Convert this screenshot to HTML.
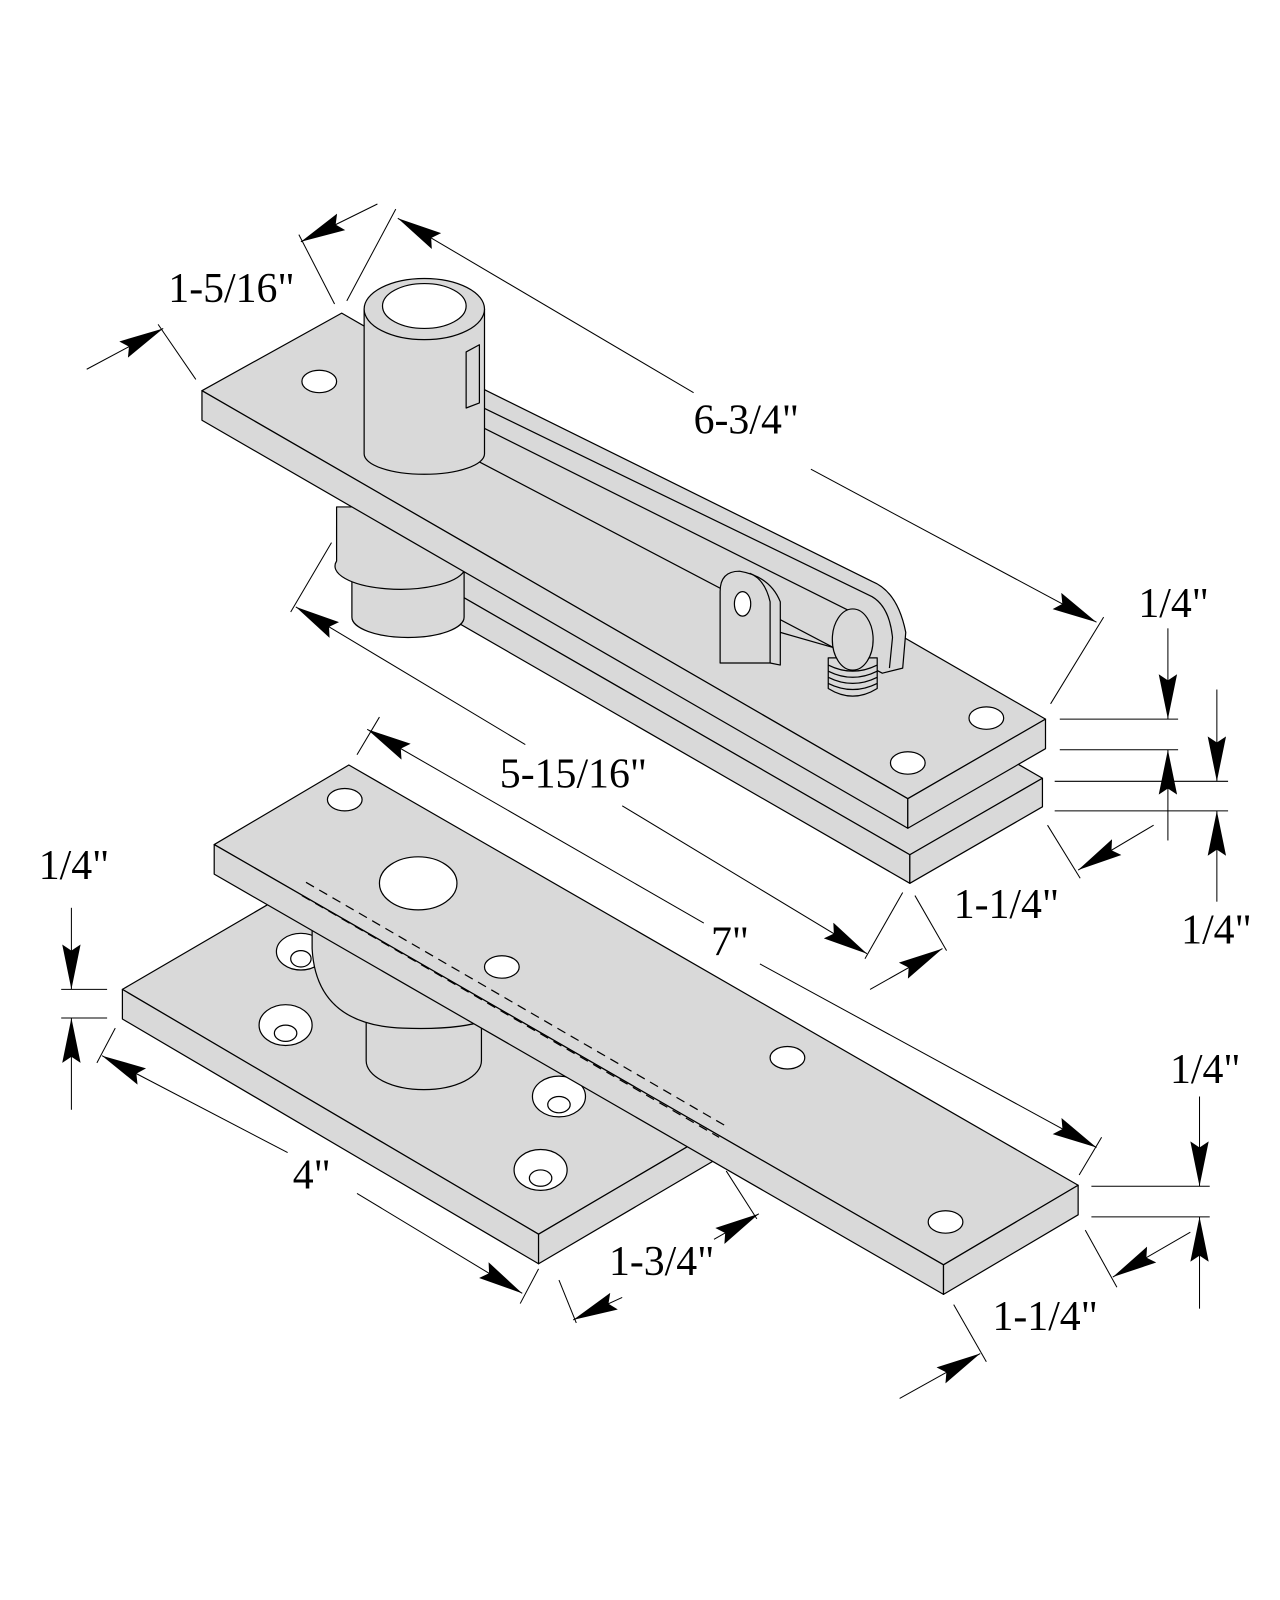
<!DOCTYPE html>
<html><head><meta charset="utf-8"><style>
html,body{margin:0;padding:0;background:#fff;}
svg{display:block}
text{font-family:"Liberation Serif",serif;font-size:41px;fill:#000}
</style></head><body>
<svg width="1280" height="1600" viewBox="0 0 1280 1600" xmlns="http://www.w3.org/2000/svg">
<defs>
<marker id="a" markerUnits="userSpaceOnUse" markerWidth="46" markerHeight="22" refX="44" refY="11" orient="auto">
<path d="M0,2 L44,11 L0,20 L6,11 Z" fill="#000"/>
</marker>
</defs>
<g transform="scale(1.02)" stroke="#000" stroke-width="1.2" fill="#d9d9d9" stroke-linejoin="round">
<!-- TOP ASSEMBLY -->
<polygon points="330,514 460,439 1022,763 892,838"/>
<polygon points="330,514 892,838 892,866 330,542"/>
<polygon points="892,838 1022,763 1022,791 892,866"/>
<path d="M345,560 V605 A55 20 0 0 0 455,605 V560 Z"/>
<path d="M330,497 V550 A62 22 0 0 0 455,560 V497 Z"/>
<polygon points="198,383 335,307 1025,705 890,783"/>
<polygon points="198,383 890,783 890,812 198,412"/>
<polygon points="890,783 1025,705 1025,734 890,812"/>
<ellipse cx="313" cy="374" rx="17" ry="11" fill="#fff"/>
<ellipse cx="967" cy="704" rx="17" ry="11" fill="#fff"/>
<ellipse cx="890" cy="748" rx="17" ry="11" fill="#fff"/>
<!-- arm -->
<path d="M455,395 L475,382 L855,570 Q880,580 888,620 L885,655 L865,660 L455,445 Z"/>
<path d="M455,410 L845,605" fill="none"/>
<path d="M470,398 L855,585 Q872,595 875,625 L872,655" fill="none"/>
<!-- clevis -->
<path d="M706,650 V580 Q706,560 725,560 Q755,565 765,590 V652 L755,650 Z"/>
<path d="M755,650 V590 Q750,568 735,562" fill="none"/>
<ellipse cx="728" cy="592" rx="8" ry="12" fill="#fff"/>
<line x1="765" y1="620" x2="835" y2="640"/>
<path d="M812,645 V675 Q836,690 860,675 V645 Z"/>
<path d="M812,652 Q836,664 860,652 M812,658 Q836,670 860,658 M812,664 Q836,676 860,664 M812,670 Q836,682 860,670" fill="none"/>
<ellipse cx="836" cy="627" rx="20" ry="30"/>
<!-- tube -->
<path d="M357,303 V445 A59 20 0 0 0 475,445 V303 Z"/>
<ellipse cx="416" cy="303" rx="59" ry="30"/>
<ellipse cx="416" cy="300" rx="41" ry="22" fill="#fff"/>
<path d="M457,345 L470,338 V395 L457,400 Z"/>
<!-- BOTTOM ASSEMBLY -->
<polygon points="120,970 300,865 710,1103 528,1210"/>
<polygon points="120,970 528,1210 528,1239 120,999"/>
<polygon points="528,1210 710,1103 710,1132 528,1239"/>
<g fill="#fff">
<ellipse cx="295" cy="933" rx="24" ry="18"/><ellipse cx="295" cy="940" rx="10" ry="8"/>
<ellipse cx="280" cy="1005" rx="26" ry="20"/><ellipse cx="280" cy="1013" rx="11" ry="8"/>
<ellipse cx="548" cy="1075" rx="26" ry="20"/><ellipse cx="548" cy="1083" rx="11" ry="8"/>
<ellipse cx="530" cy="1147" rx="26" ry="20"/><ellipse cx="530" cy="1155" rx="11" ry="8"/>
</g>
<!-- cylinder below -->
<path d="M359,1000 V1040 A56 28 0 0 0 472,1040 V1000 Z"/>
<path d="M306,890 V930 Q310,1005 395,1008 Q450,1010 477,1000 L477,960 Z"/>
<!-- long plate -->
<polygon points="210,828 342,750 1057,1162 925,1240"/>
<polygon points="210,828 925,1240 925,1269 210,857"/>
<polygon points="925,1240 1057,1162 1057,1191 925,1269"/>
<path d="M300,865 L710,1103 M296,878 L705,1115" fill="none" stroke-dasharray="9,6"/>
<g fill="#fff">
<ellipse cx="338" cy="784" rx="17" ry="11"/>
<ellipse cx="410" cy="866" rx="38" ry="26"/>
<ellipse cx="492" cy="948" rx="17" ry="11"/>
<ellipse cx="772" cy="1037" rx="17" ry="11"/>
<ellipse cx="927" cy="1198" rx="17" ry="11"/>
</g>
<!-- DIMENSIONS -->
<g fill="none" stroke-width="1">
<line x1="340" y1="295" x2="388" y2="205"/>
<line x1="1030" y1="690" x2="1082" y2="605"/>
<line x1="680" y1="385" x2="390" y2="214" marker-end="url(#a)"/>
<line x1="795" y1="460" x2="1075" y2="610" marker-end="url(#a)"/>
<line x1="293" y1="230" x2="328" y2="298"/>
<line x1="370" y1="200" x2="295" y2="237" marker-end="url(#a)"/>
<line x1="155" y1="318" x2="192" y2="372"/>
<line x1="85" y1="362" x2="160" y2="322" marker-end="url(#a)"/>
<line x1="285" y1="600" x2="325" y2="532"/>
<line x1="848" y1="940" x2="885" y2="875"/>
<line x1="515" y1="730" x2="290" y2="595" marker-end="url(#a)"/>
<line x1="610" y1="790" x2="850" y2="935" marker-end="url(#a)"/>
<line x1="1027" y1="809" x2="1059" y2="861"/>
<line x1="1131" y1="809" x2="1057" y2="853" marker-end="url(#a)"/>
<line x1="897" y1="878" x2="928" y2="932"/>
<line x1="853" y1="970" x2="924" y2="930" marker-end="url(#a)"/>
<line x1="1039" y1="705" x2="1155" y2="705"/>
<line x1="1039" y1="735" x2="1155" y2="735"/>
<line x1="1034" y1="766" x2="1204" y2="766"/>
<line x1="1034" y1="795" x2="1204" y2="795"/>
<line x1="1145" y1="616" x2="1145" y2="705" marker-end="url(#a)"/>
<line x1="1145" y1="824" x2="1145" y2="735" marker-end="url(#a)"/>
<line x1="1193" y1="676" x2="1193" y2="766" marker-end="url(#a)"/>
<line x1="1193" y1="884" x2="1193" y2="795" marker-end="url(#a)"/>
<line x1="60" y1="970" x2="105" y2="970"/>
<line x1="60" y1="998" x2="105" y2="998"/>
<line x1="70" y1="890" x2="70" y2="970" marker-end="url(#a)"/>
<line x1="70" y1="1088" x2="70" y2="998" marker-end="url(#a)"/>
<line x1="1070" y1="1163" x2="1186" y2="1163"/>
<line x1="1070" y1="1193" x2="1186" y2="1193"/>
<line x1="1176" y1="1075" x2="1176" y2="1163" marker-end="url(#a)"/>
<line x1="1176" y1="1283" x2="1176" y2="1193" marker-end="url(#a)"/>
<line x1="1064" y1="1206" x2="1095" y2="1262"/>
<line x1="1167" y1="1208" x2="1091" y2="1252" marker-end="url(#a)"/>
<line x1="935" y1="1279" x2="967" y2="1335"/>
<line x1="882" y1="1371" x2="961" y2="1327" marker-end="url(#a)"/>
<line x1="350" y1="740" x2="372" y2="703"/>
<line x1="1058" y1="1152" x2="1080" y2="1115"/>
<line x1="690" y1="905" x2="360" y2="715" marker-end="url(#a)"/>
<line x1="745" y1="945" x2="1075" y2="1125" marker-end="url(#a)"/>
<line x1="95" y1="1042" x2="113" y2="1008"/>
<line x1="510" y1="1278" x2="528" y2="1244"/>
<line x1="282" y1="1130" x2="100" y2="1035" marker-end="url(#a)"/>
<line x1="350" y1="1170" x2="512" y2="1268" marker-end="url(#a)"/>
<line x1="712" y1="1148" x2="742" y2="1195"/>
<line x1="548" y1="1255" x2="565" y2="1297"/>
<line x1="700" y1="1215" x2="744" y2="1190" marker-end="url(#a)"/>
<line x1="610" y1="1272" x2="562" y2="1294" marker-end="url(#a)"/>
</g>
<g stroke="none" fill="#000">
<text x="165" y="296">1-5/16"</text>
<text x="680" y="425">6-3/4"</text>
<text x="1116" y="605">1/4"</text>
<text x="490" y="772">5-15/16"</text>
<text x="935" y="900">1-1/4"</text>
<text x="1158" y="925">1/4"</text>
<text x="38" y="862">1/4"</text>
<text x="697" y="937">7"</text>
<text x="1147" y="1062">1/4"</text>
<text x="287" y="1165">4"</text>
<text x="597" y="1250">1-3/4"</text>
<text x="973" y="1304">1-1/4"</text>
</g>
</g>
</svg>
</body></html>
